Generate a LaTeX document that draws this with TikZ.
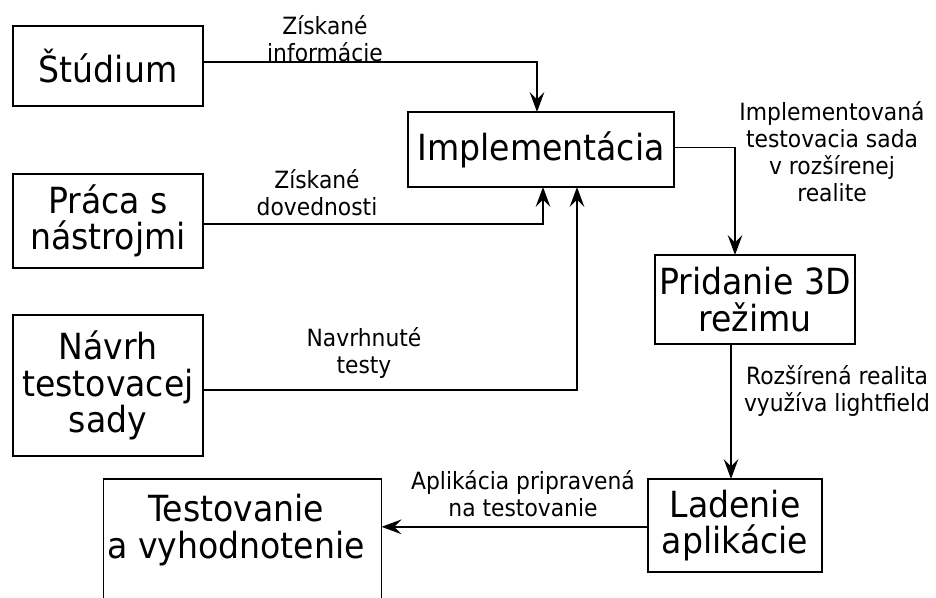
\documentclass[tikz,border=0pt]{standalone}
\usepackage{fontspec}
\setmainfont{DejaVu Sans}[FakeStretch=0.92]
\usetikzlibrary{calc,positioning,arrows.meta}

\begin{document}
\begin{tikzpicture}[x=0.75pt,y=0.75pt,
  velke/.style={align=center,inner sep=0pt,font=\fontsize{27}{27.5}\selectfont},
  blok/.style={velke,draw,line width=1.4pt,outer sep=0pt},
  popis/.style={align=center,inner sep=0pt,font=\fontsize{17.8}{20.25}\selectfont},
  sipka/.style={-{Stealth[length=15pt,width=11pt,inset=5.5pt]},line width=1.4pt}]
  \useasboundingbox (0,0) rectangle (936,-598);
  \clip (0,0) rectangle (936,-598);
  \node[blok,minimum width=142.5pt,minimum height=60pt] (stud) at (108,-66) {Štúdium};
  \node[blok,minimum width=142.5pt,minimum height=70.5pt,below=51pt of stud] (praca) {Práca s\\nástrojmi};
  \node[blok,minimum width=142.5pt,minimum height=105.75pt,below=35.25pt of praca] (navrh) {Návrh\\testovacej\\sady};
  \node[blok,minimum width=199.5pt,minimum height=56.25pt] (impl) at (541,-149.5) {Implementácia};
  \node[blok,minimum width=150pt,minimum height=66.75pt] (prid) at (755,-299.5) {Pridanie 3D\\režimu};
  \node[blok,minimum width=130.5pt,minimum height=69.75pt] (lad) at (735,-525.5) {Ladenie\\aplikácie};
  \node[blok,minimum width=208.5pt,minimum height=105.75pt,anchor=north] (test) at (242.5,-479) {};
  \node[velke] (testtxt) at (236,-530) {Testovanie\\a vyhodnotenie};
  \node[popis] (info) at (325,-38.5) {Získané\\informácie};
  \node[popis] (dov) at (317,-193) {Získané\\dovednosti};
  \node[popis] (testy) at (364,-352.5) {Navrhnuté\\testy};
  \node[popis] (sada) at (832,-152) {Implementovaná\\testovacia sada\\v rozšírenej\\realite};
  \node[popis] (ar) at (837,-391) {Rozšírená realita\\využíva lightfield};
  \node[popis] (pripr) at (523,-493.5) {Aplikácia pripravená\\na testovanie};
  \draw[sipka] ([yshift=3pt]stud.east) -| ([xshift=-3pt]impl.north);
  \draw[sipka] ([yshift=-2.25pt]praca.east) -| ([xshift=1.5pt]impl.south);
  \draw[sipka] ([yshift=-3.4pt]navrh.east) -| ([xshift=27pt]impl.south);
  \draw[sipka] ([yshift=1.5pt]impl.east) -| ([xshift=-15pt]prid.north);
  \draw[sipka] ([xshift=-18pt]prid.south) -- ([xshift=-18pt]prid.south |- lad.north);
  \draw[sipka] ([yshift=-1pt]lad.west) -- ([yshift=-1pt]lad.west -| test.east);
\end{tikzpicture}
\end{document}
